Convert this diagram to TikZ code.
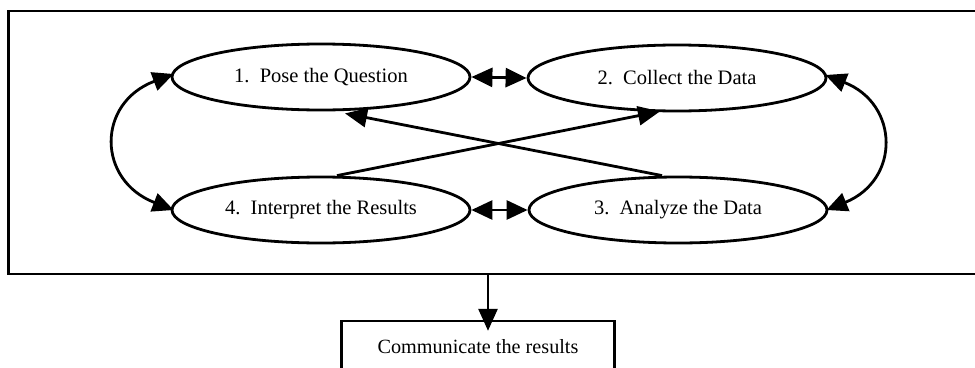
\documentclass[tikz,border=0pt]{standalone}
\usepackage{fontspec}
\setmainfont{Liberation Serif}
\usetikzlibrary{shapes.geometric,arrows.meta,calc}
\begin{document}
\begin{tikzpicture}[x=1pt,y=-1pt,
  stage/.style={ellipse, draw, line width=2.8pt, minimum width=298pt, minimum height=66pt, inner sep=0pt, font=\fontsize{20.5}{24}\selectfont},
  outbox/.style={draw, line width=2.4pt, minimum width=273pt, minimum height=52pt, inner sep=0pt, font=\fontsize{20.2}{24}\selectfont},
  frameline/.style={line width=2.8pt},
  biarrow/.style={line width=2.8pt, {Triangle[length=21pt,width=19pt]}-{Triangle[length=21pt,width=19pt]}},
  onearrow/.style={line width=2.8pt, -{Triangle[length=22pt,width=19pt]}}]
\useasboundingbox (0,0) rectangle (975,367);
% frame (right side lies outside the picture)
\draw[frameline] (975,11) -- (8.5,11) -- (8.5,274) -- (975,274);
\coordinate (fb) at (488,274);
% stages
\node[stage] (e1) at (321,77) {1.\ \ Pose the Question};
\node[stage] (e2) at (677,78) {2.\ \ Collect the Data};
\node[stage] (e4) at (321,210) {4.\ \ Interpret the Results};
\node[stage] (e3) at (678,210) {3.\ \ Analyze the Data};
\node[outbox] (out) at (478,347) {Communicate the results};
% connectors
\draw[biarrow] (e1.east) -- (e2.west);
\draw[biarrow] (e4.east) -- (e3.west);
\draw[biarrow] ($(e1.west)+(3,-3)$) .. controls ($(e1.west)+(-74,26)$) and ($(e4.west)+(-74,-30)$) .. ($(e4.west)+(3,0)$);
\draw[biarrow] ($(e2.east)+(-2,-3)$) .. controls ($(e2.east)+(72,26)$) and ($(e3.east)+(72,-30)$) .. ($(e3.east)+(-2,0)$);
\draw[onearrow] ($(e4.north)+(16,0)$) -- ($(e2.south)+(-17,-1)$);
\draw[onearrow] ($(e3.north)+(-16,0)$) -- ($(e1.south)+(24,2)$);
\draw[onearrow] (fb) -- ([yshift=-11pt]fb |- out.north);
\end{tikzpicture}
\end{document}
